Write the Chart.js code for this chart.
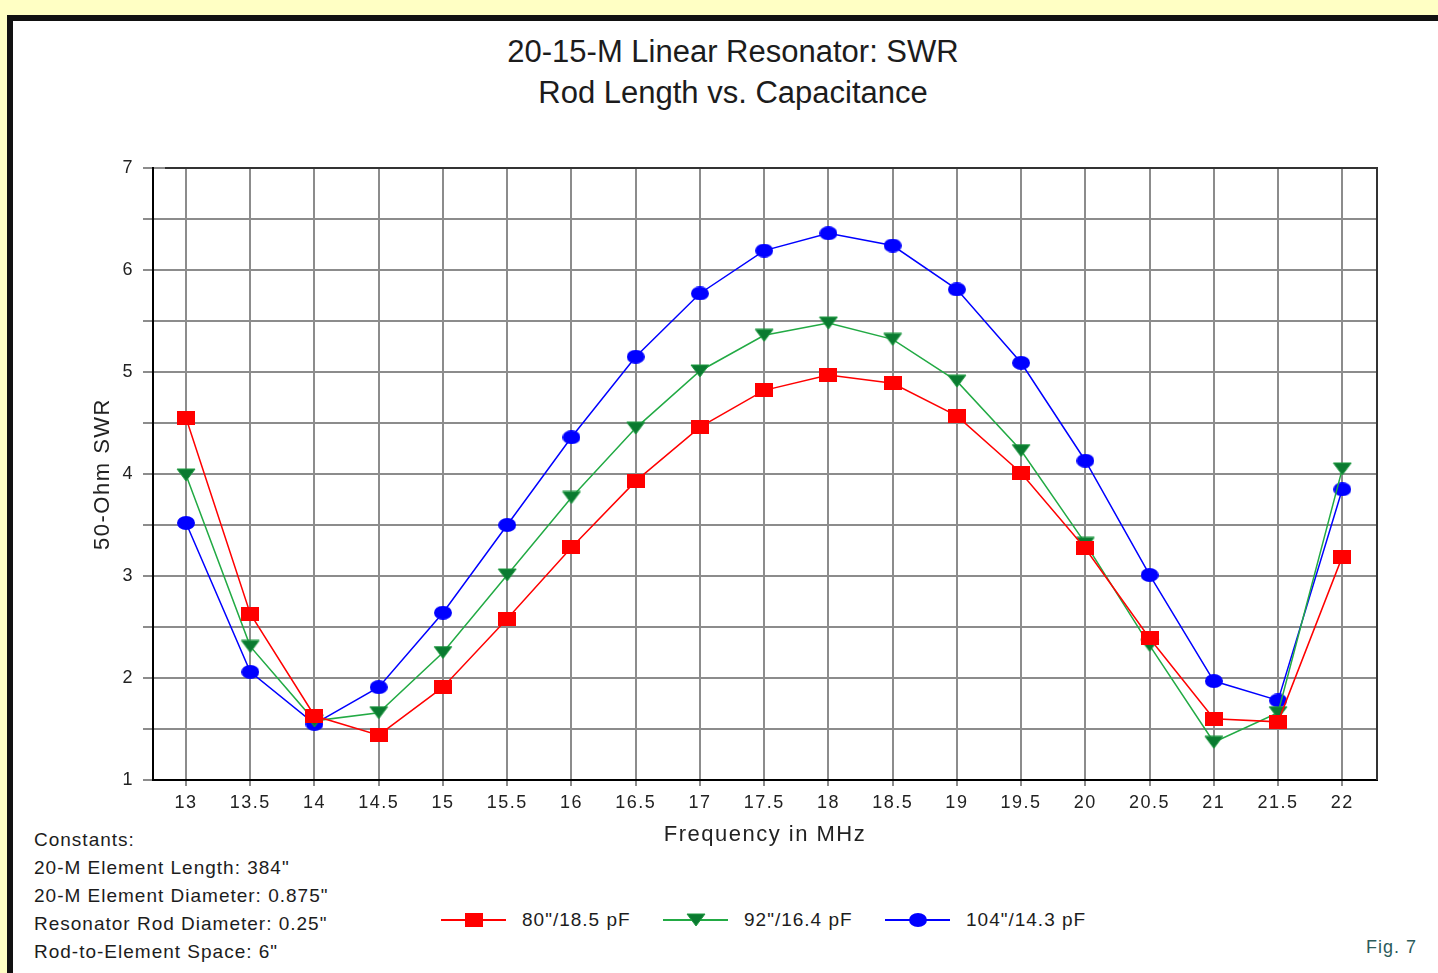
<!DOCTYPE html>
<html>
<head>
<meta charset="utf-8">
<script src="https://cdn.jsdelivr.net/npm/chart.js@4.4.1/dist/chart.umd.min.js"></script>
<style>
  html, body { margin: 0; padding: 0; }
  body {
    width: 1438px; height: 973px; overflow: hidden; position: relative;
    background: #ffffc4; font-family: "Liberation Sans", Arial, sans-serif; color: #1c1c1c;
  }
  #frame {
    position: absolute; left: 7px; top: 15px; width: 1440px; height: 970px;
    background: #fff; border-top: 6px solid #111; border-left: 6px solid #111;
  }
  #chart { position: absolute; left: 0; top: 0; }
  #title {
    position: absolute; left: 233px; top: 31px; width: 1000px;
    text-align: center; font-size: 31px; line-height: 41px;
  }
  #constants {
    position: absolute; left: 34px; top: 826px;
    font-size: 19px; line-height: 28px; letter-spacing: 1px;
  }
  .leg { position: absolute; top: 910px; height: 20px; font-size: 19px; line-height: 20px; letter-spacing: 1px; }
  .leg svg { position: absolute; left: 0; top: 0; }
  .leg span { position: absolute; top: 0; white-space: nowrap; }
  #fig { position: absolute; left: 1366px; top: 937px; font-size: 18px; letter-spacing: 1px; color: #2b5b5b; }
</style>
</head>
<body>
<div id="frame"></div>
<div id="title"></div>
<div id="constants"></div>
<div id="legend"></div>
<div id="fig">Fig. 7</div>
<canvas id="chart" width="1438" height="973"></canvas>
<script>
// chart data
const freqs = [13, 13.5, 14, 14.5, 15, 15.5, 16, 16.5, 17, 17.5, 18, 18.5, 19, 19.5, 20, 20.5, 21, 21.5, 22];
const swr80 = [4.55, 2.63, 1.63, 1.44, 1.91, 2.58, 3.28, 3.93, 4.46, 4.82, 4.97, 4.89, 4.57, 4.01, 3.27, 2.39, 1.60, 1.57, 3.19];
const swr92 = [3.99, 2.31, 1.58, 1.66, 2.25, 3.01, 3.77, 4.45, 5.01, 5.36, 5.48, 5.32, 4.91, 4.23, 3.32, 2.32, 1.37, 1.66, 4.05];
const swr104 = [3.52, 2.06, 1.55, 1.91, 2.64, 3.50, 4.36, 5.15, 5.77, 6.19, 6.36, 6.24, 5.81, 5.09, 4.13, 3.01, 1.97, 1.78, 3.85];
const seriesLabels = ['80"/18.5 pF', '92"/16.4 pF', '104"/14.3 pF'];
const titleLines = ['20-15-M Linear Resonator: SWR', 'Rod Length vs. Capacitance'];
const constantsLines = ['Constants:', '20-M Element Length: 384"', '20-M Element Diameter: 0.875"',
                        'Resonator Rod Diameter: 0.25"', 'Rod-to-Element Space: 6"'];

const FONT = '"Liberation Sans", Arial, sans-serif';

document.getElementById('title').innerHTML = titleLines.join('<br>');
document.getElementById('constants').innerHTML = constantsLines.map(s => s.replace(/"/g, '&quot;')).join('<br>');

// marker images
function makeMarker(kind) {
    const c = document.createElement('canvas');
    c.width = 20; c.height = 14;
    const g = c.getContext('2d');
    if (kind === 'rect') {
        c.width = 18; c.height = 14;
        g.fillStyle = '#ff0000';
        g.fillRect(0, 0, 18, 14);
    } else if (kind === 'tri') {
        g.beginPath();
        g.moveTo(1, 1); g.lineTo(19, 1); g.lineTo(10, 13); g.closePath();
        g.fillStyle = '#0a7a30';
        g.fill();
        g.strokeStyle = '#1f9a40';
        g.lineWidth = 1;
        g.stroke();
    } else {
        c.width = 18; c.height = 14;
        g.beginPath();
        g.ellipse(9, 7, 9, 7, 0, 0, Math.PI * 2);
        g.fillStyle = '#0000ff';
        g.fill();
    }
    return c;
}

const colors = ['#ff0000', '#22aa44', '#0000ff'];
const markers = [makeMarker('rect'), makeMarker('tri'), makeMarker('circ')];
const series = [swr80, swr92, swr104];

// legend
const legendX = [441, 663, 885];
const legend = document.getElementById('legend');
seriesLabels.forEach((lab, i) => {
    const d = document.createElement('div');
    d.className = 'leg';
    d.style.left = legendX[i] + 'px';
    d.style.width = '220px';
    let mk;
    if (i === 0) mk = '<rect x="24" y="3" width="18" height="14" fill="#ff0000"/>';
    else if (i === 1) mk = '<polygon points="24,4 42,4 33,16" fill="#0a7a30" stroke="#1f9a40"/>';
    else mk = '<ellipse cx="33" cy="10" rx="9" ry="7" fill="#0000ff"/>';
    d.innerHTML = '<svg width="66" height="20"><line x1="0" y1="10" x2="65" y2="10" stroke="' + colors[i] +
        '" stroke-width="2"/>' + mk + '</svg><span style="left:81px"></span>';
    d.querySelector('span').textContent = lab;
    legend.appendChild(d);
});

const framePlugin = {
    id: 'frame',
    beforeDraw(chart) {
        chart.ctx.letterSpacing = '1.5px';
    },
    beforeDatasetsDraw(chart) {
        const {ctx, chartArea: a} = chart;
        ctx.save();
        ctx.strokeStyle = '#333';
        ctx.lineWidth = 2;
        ctx.beginPath();
        ctx.moveTo(a.left + 12, a.top);
        ctx.lineTo(a.right, a.top);
        ctx.lineTo(a.right, a.bottom);
        ctx.stroke();
        ctx.restore();
    }
};

const ctx = document.getElementById('chart').getContext('2d');
new Chart(ctx, {
    type: 'line',
    data: {
        datasets: series.map((vals, i) => ({
            label: seriesLabels[i],
            data: freqs.map((f, j) => ({x: f, y: vals[j]})),
            borderColor: colors[i],
            borderWidth: 1.5,
            pointStyle: markers[i],
            pointRadius: 9,
            tension: 0,
            fill: false
        }))
    },
    options: {
        responsive: false,
        animation: false,
        devicePixelRatio: 1,
        layout: {padding: {top: 168, right: 61, left: 0, bottom: 0}},
        plugins: {legend: {display: false}, tooltip: {enabled: false}},
        scales: {
            x: {
                type: 'linear',
                min: 12.743,
                max: 22.27,
                afterFit(s) { s.height = 193; },
                ticks: {
                    stepSize: 0.5, includeBounds: false, autoSkip: false, maxRotation: 0,
                    callback: v => String(v),
                    font: {family: FONT, size: 18}, color: '#222', padding: 6
                },
                grid: {color: '#8c8c8c', lineWidth: 2, tickLength: 6},
                border: {color: '#000', width: 2},
                title: {
                    display: true, text: 'Frequency in MHz', color: '#222',
                    font: {family: FONT, size: 22}, padding: {top: 0, bottom: 125}
                }
            },
            y: {
                min: 1,
                max: 7,
                afterFit(s) { s.width = 153; },
                ticks: {
                    stepSize: 0.5, autoSkip: false,
                    callback: v => Number.isInteger(v) ? String(v) : '',
                    font: {family: FONT, size: 18}, color: '#222', padding: 9
                },
                grid: {color: '#8c8c8c', lineWidth: 2, tickLength: 10},
                border: {color: '#000', width: 2},
                title: {
                    display: true, text: '50-Ohm SWR', color: '#222',
                    font: {family: FONT, size: 22}, padding: {top: 90, bottom: 0}
                }
            }
        }
    },
    plugins: [framePlugin]
});
</script>
</body>
</html>
